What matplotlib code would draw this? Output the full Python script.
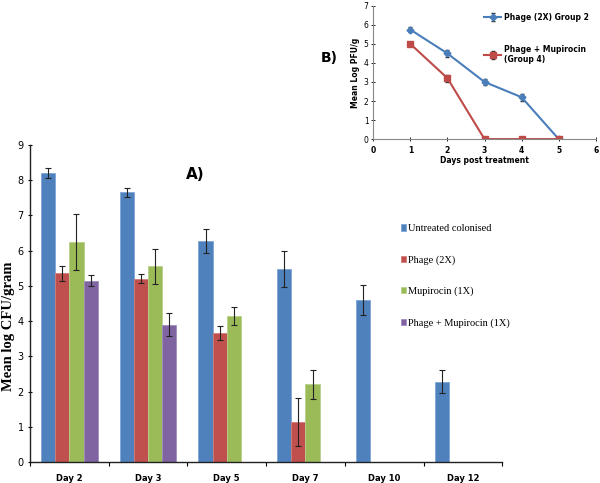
import matplotlib
matplotlib.use("Agg")
import matplotlib.pyplot as plt
import numpy as np

# ---- Panel A data ----
days = ["Day 2", "Day 3", "Day 5", "Day 7", "Day 10", "Day 12"]
series_names = ["Untreated colonised", "Phage (2X)", "Mupirocin (1X)", "Phage + Mupirocin (1X)"]
untreated = [8.2, 7.65, 6.27, 5.48, 4.6, 2.28]
untreated_err = [0.15, 0.12, 0.35, 0.5, 0.43, 0.32]
phage = [5.35, 5.2, 3.65, 1.13, np.nan, np.nan]
phage_err = [0.2, 0.13, 0.2, 0.68, np.nan, np.nan]
mupirocin = [6.25, 5.55, 4.15, 2.2, np.nan, np.nan]
mupirocin_err = [0.8, 0.5, 0.25, 0.42, np.nan, np.nan]
combo = [5.15, 3.9, np.nan, np.nan, np.nan, np.nan]
combo_err = [0.15, 0.32, np.nan, np.nan, np.nan, np.nan]
colors = ["#4F81BD", "#C0504D", "#9BBB59", "#8064A2"]
edge_colors = ["#7FA6D6", "#D27C7A", "#B7D08A", "#A08BC0"]

# ---- Panel B data ----
b_days = [1, 2, 3, 4, 5]
b_phage = [5.75, 4.5, 3.0, 2.2, 0.0]
b_phage_err = [0.12, 0.2, 0.15, 0.18, 0.0]
b_combo = [5.0, 3.2, 0.0, 0.0, 0.0]
b_combo_err = [0.1, 0.18, 0.0, 0.0, 0.0]
b_names = ["Phage (2X) Group 2", "Phage + Mupirocin\n(Group 4)"]

fig = plt.figure(figsize=(6, 4.83), dpi=100)

# ---------- Panel A ----------
ax = fig.add_axes([0.05, 0.0435, 0.787, 0.6565])
x = np.arange(len(days))
w = 0.18
vals = [untreated, phage, mupirocin, combo]
errs = [untreated_err, phage_err, mupirocin_err, combo_err]
handles = []
for i, (v, e, c) in enumerate(zip(vals, errs, colors)):
    pos = x + (i - 1.5) * w
    h = ax.bar(pos, v, width=w, color=c, edgecolor=edge_colors[i], linewidth=0.6,
               label=series_names[i])
    ax.errorbar(pos, v, yerr=e, fmt="none", ecolor="#222222", elinewidth=0.8,
                capsize=2, capthick=0.8)
    handles.append(h)

ax.set_xlim(-0.5, len(days) - 0.5)
ax.set_ylim(0, 9)
ax.set_yticks(range(0, 10))
ax.set_xticks(x)
ax.set_xticklabels(days, fontsize=6, fontweight="bold", family="DejaVu Sans")
ax.set_xticks(np.arange(-0.5, len(days)), minor=True)
ax.tick_params(axis="x", which="major", length=0, pad=9)
ax.tick_params(axis="x", which="minor", length=3, direction="out", width=0.8)
ax.tick_params(axis="y", labelsize=7, length=3, direction="inout", width=0.8, pad=3)
for s in ["top", "right"]:
    ax.spines[s].set_visible(False)
for s in ["left", "bottom"]:
    ax.spines[s].set_linewidth(1.0)
    ax.spines[s].set_color("#222222")
fig.text(9 / 600, 1 - 326 / 483, "Mean log CFU/gram", family="Liberation Serif",
         fontweight="bold", fontsize=10.5, rotation=90, ha="center", va="center")
ax.text(0.35, 0.908, "A)", transform=ax.transAxes, fontsize=11, fontweight="bold",
        ha="center", va="center")

fig.legend(handles=handles, labels=series_names, loc="upper left",
           bbox_to_anchor=(0.652, 0.555), frameon=False,
           prop={"family": "Liberation Serif", "size": 7.5},
           handlelength=0.55, handleheight=0.55, handletextpad=0.2, labelspacing=2.1)

# ---------- Panel B ----------
axb = fig.add_axes([0.622, 0.712, 0.371, 0.276])
axb.errorbar(b_days, b_phage, yerr=b_phage_err, color="#4A7EBB", marker="D",
             markersize=3.5, linewidth=1.5, ecolor="#333333", elinewidth=0.7,
             capsize=1.5, label=b_names[0])
axb.errorbar(b_days, b_combo, yerr=b_combo_err, color="#BE4B48", marker="s",
             markersize=5, linewidth=1.5, ecolor="#333333", elinewidth=0.7,
             capsize=1.5, label=b_names[1])
axb.set_xlim(0, 6)
axb.set_ylim(0, 7)
axb.set_xticks(range(0, 7))
axb.set_yticks(range(0, 8))
axb.tick_params(labelsize=5.5, length=2.5, direction="inout", width=0.6, pad=2)
axb.tick_params(axis="x", pad=4)
for lab in axb.get_xticklabels():
    lab.set_fontweight("bold")
for s in ["top", "right"]:
    axb.spines[s].set_visible(False)
for s in ["left", "bottom"]:
    axb.spines[s].set_color("#888888")
    axb.spines[s].set_linewidth(0.8)
axb.set_xlabel("Days post treatment", fontsize=5.5, fontweight="bold", labelpad=0.5)
axb.set_ylabel("Mean Log PFU/g", fontsize=5.5, fontweight="bold", labelpad=3)
lg = axb.legend(loc="upper right", bbox_to_anchor=(1.0, 1.0), frameon=False,
                prop={"size": 5.5, "weight": "bold"}, handlelength=2.2,
                labelspacing=3.0, handletextpad=0.4)
fig.text(0.548, 0.88, "B)", fontsize=10, fontweight="bold", ha="center", va="center")

fig.savefig("out.png", dpi=100)
